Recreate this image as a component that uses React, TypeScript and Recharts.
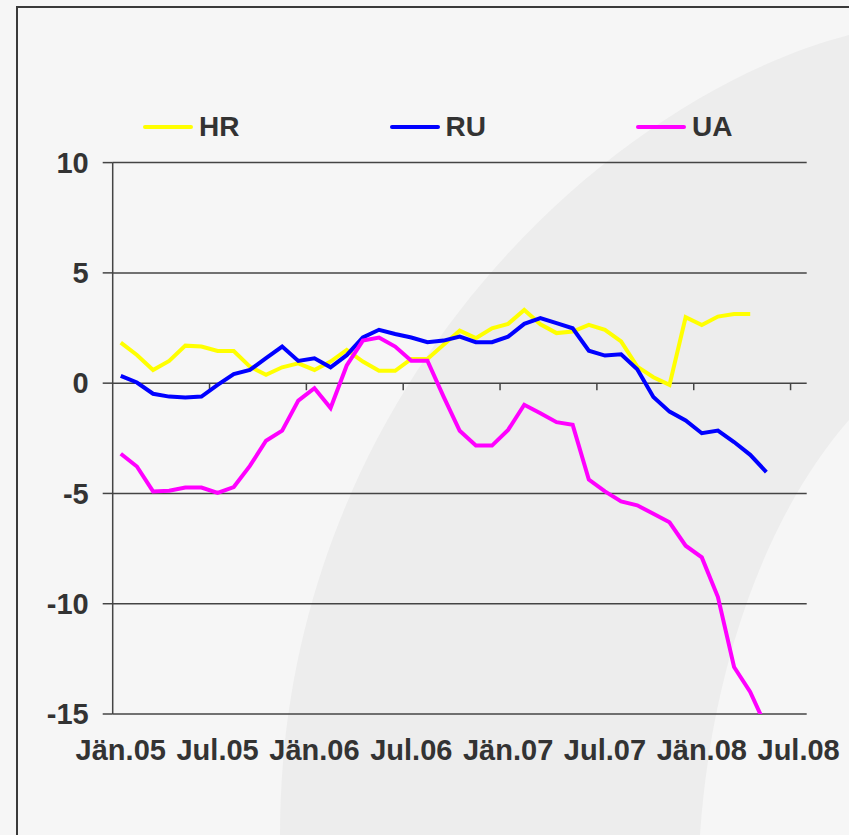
import React from 'react'
import {
  LineChart,
  Line,
  XAxis,
  YAxis,
  CartesianGrid,
  Legend,
  ReferenceLine,
} from 'recharts'

// monthly values, Jän.05 .. Jul.08 (43 months)
const tickLabels = ['Jän.05', 'Jul.05', 'Jän.06', 'Jul.06', 'Jän.07', 'Jul.07', 'Jän.08', 'Jul.08']
const monthCount = 43

const hr = [
  1.84, 1.28, 0.6, 1.01, 1.7, 1.66, 1.46, 1.46, 0.75, 0.38, 0.72, 0.9, 0.6, 0.98, 1.51, 0.98, 0.56,
  0.56, 1.1, 1.1, 1.74, 2.38, 2.04, 2.49, 2.69, 3.32, 2.67, 2.27, 2.34, 2.64, 2.42, 1.89, 0.75, 0.27,
  -0.08, 2.99, 2.64, 3.02, 3.14, 3.14,
]

const ru = [
  0.33, 0.03, -0.48, -0.61, -0.65, -0.61, -0.08, 0.41, 0.6, 1.13, 1.66, 1.01, 1.13, 0.72, 1.27, 2.07,
  2.42, 2.23, 2.07, 1.86, 1.93, 2.11, 1.86, 1.86, 2.11, 2.69, 2.95, 2.72, 2.49, 1.47, 1.25, 1.31, 0.63,
  -0.63, -1.29, -1.69, -2.27, -2.15, -2.67, -3.25, -4.03,
]

const ua = [
  -3.2, -3.78, -4.91, -4.88, -4.73, -4.73, -4.98, -4.71, -3.75, -2.61, -2.15, -0.79, -0.23, -1.13, 0.8,
  1.93, 2.07, 1.66, 1.02, 1.02, -0.61, -2.16, -2.83, -2.83, -2.12, -0.98, -1.36, -1.77, -1.89, -4.37,
  -4.91, -5.36, -5.54, -5.92, -6.31, -7.37, -7.9, -9.7, -12.87, -14.0, -15.6,
]

const yTicks = [-15, -10, -5, 0, 5, 10]

const series = [
  { key: 'HR', color: '#ffff00' },
  { key: 'RU', color: '#0000ff' },
  { key: 'UA', color: '#ff00ff' },
]

const data = Array.from({ length: monthCount }, (_, i) => ({
  i,
  HR: hr[i],
  RU: ru[i],
  UA: ua[i],
}))

const FONT = '"Liberation Sans", Arial, sans-serif'
const TEXT = '#333333'
const AXIS = '#444444'

const tickStyle = { fill: TEXT, fontSize: 29, fontWeight: 'bold', fontFamily: FONT }

function LegendRow() {
  return (
    <div style={{ display: 'flex', fontFamily: FONT }}>
      {series.map((s) => (
        <div key={s.key} style={{ width: 246.5, display: 'flex', alignItems: 'center', lineHeight: '34px' }}>
          <span style={{ width: 50, height: 4, background: s.color, borderRadius: 2, marginRight: 6 }} />
          <span style={{ fontSize: 28, fontWeight: 'bold', color: TEXT }}>{s.key}</span>
        </div>
      ))}
    </div>
  )
}

export default function App() {
  const tickPositions = tickLabels.map((_, k) => k * 6)

  return (
    <div
      style={{
        position: 'absolute',
        left: 0,
        top: 0,
        width: 849,
        height: 835,
        overflow: 'hidden',
        background: '#f6f6f6',
      }}
    >
      <svg width={849} height={835} style={{ position: 'absolute', left: 0, top: 0 }}>
        <path
          d="M 849 35 C 600 100, 280 400, 280 835 L 700 835 C 712 660, 770 510, 849 420 Z"
          fill="#ededed"
        />
      </svg>
      <div
        style={{
          position: 'absolute',
          left: 16,
          top: 6,
          width: 900,
          height: 900,
          borderLeft: '2px solid #3a3a3a',
          borderTop: '2px solid #3a3a3a',
        }}
      />
      <div style={{ position: 'absolute', left: 0, top: 0 }}>
        <LineChart
          width={849}
          height={835}
          data={data}
          margin={{ top: 162.6, right: 42.3, bottom: 71, left: 52.7 }}
        >
          <CartesianGrid vertical={false} stroke={AXIS} strokeWidth={1.5} />
          <XAxis
            dataKey="i"
            type="number"
            domain={[-0.5, monthCount - 0.5]}
            ticks={tickPositions}
            tickFormatter={(v) => tickLabels[Math.round(v / 6)]}
            interval={0}
            axisLine={false}
            tickLine={false}
            tickMargin={19}
            height={50}
            tick={tickStyle}
          />
          <YAxis
            domain={[-15, 10]}
            ticks={yTicks}
            allowDataOverflow
            width={60}
            axisLine={{ stroke: AXIS, strokeWidth: 1.5 }}
            tickLine={{ stroke: AXIS, strokeWidth: 1.5 }}
            tickSize={10}
            tickMargin={14}
            tick={tickStyle}
          />
          {tickPositions.slice(1).map((p) => (
            <ReferenceLine
              key={p}
              segment={[
                { x: p - 0.5, y: 0 },
                { x: p - 0.5, y: -0.32 },
              ]}
              stroke={AXIS}
              strokeWidth={1.5}
              ifOverflow="visible"
            />
          ))}
          <Legend
            layout="horizontal"
            verticalAlign="middle"
            align="center"
            wrapperStyle={{ top: 110, left: 143, width: 740 }}
            content={() => <LegendRow />}
          />
          {series.map((s) => (
            <Line
              key={s.key}
              type="linear"
              dataKey={s.key}
              stroke={s.color}
              strokeWidth={4}
              dot={false}
              activeDot={false}
              isAnimationActive={false}
            />
          ))}
        </LineChart>
      </div>
    </div>
  )
}
